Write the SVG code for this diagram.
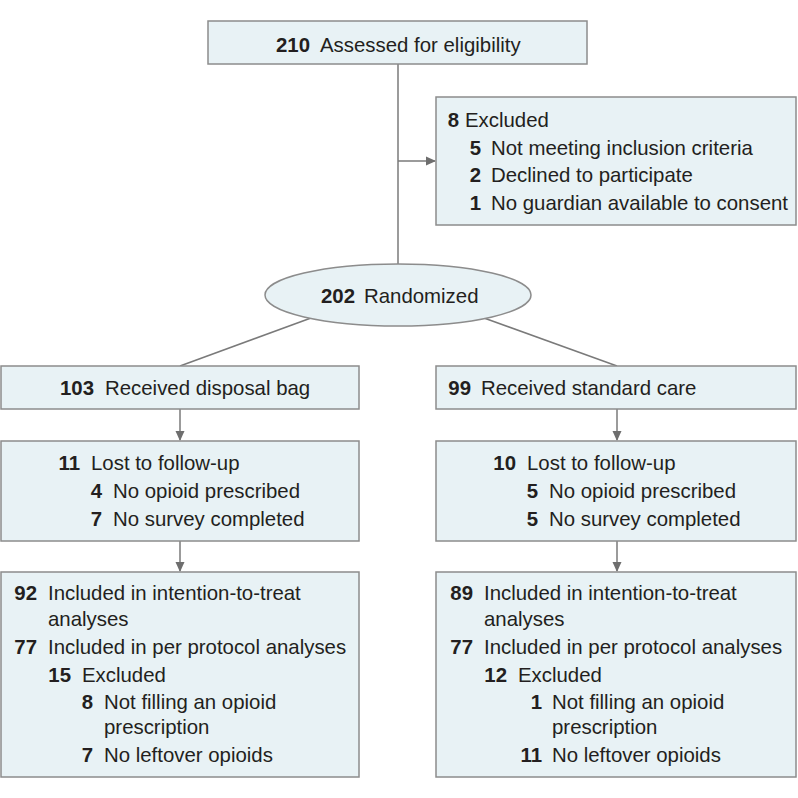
<svg xmlns="http://www.w3.org/2000/svg" width="798" height="798" viewBox="0 0 798 798">
<style>
.box{fill:#e8f2f5;stroke:#8c8c8c;stroke-width:1.5}
.t{font-family:"Liberation Sans",Arial,sans-serif;font-size:20.4px;fill:#231f20}
.n{font-family:"Liberation Sans",Arial,sans-serif;font-size:20.4px;font-weight:bold;fill:#231f20;text-anchor:end}
.c{fill:none;stroke:#7a7a7a;stroke-width:1.5}
</style>
<defs>
<marker id="ah" markerWidth="10" markerHeight="10" refX="9" refY="5" orient="auto" markerUnits="userSpaceOnUse">
<path d="M0,0.5 L10,5 L0,9.5 Z" fill="#6e6e6e"/>
</marker>
</defs>
<rect width="798" height="798" fill="#ffffff"/>
<g id="connectors">
<line class="c" x1="398" y1="64" x2="398" y2="264"/>
<line class="c" x1="398" y1="161" x2="435" y2="161" marker-end="url(#ah)"/>
<line class="c" x1="311" y1="318" x2="180" y2="366"/>
<line class="c" x1="484" y1="318" x2="617" y2="366"/>
<line class="c" x1="180" y1="409" x2="180" y2="440" marker-end="url(#ah)"/>
<line class="c" x1="180" y1="541" x2="180" y2="571" marker-end="url(#ah)"/>
<line class="c" x1="617" y1="409" x2="617" y2="440" marker-end="url(#ah)"/>
<line class="c" x1="617" y1="541" x2="617" y2="571" marker-end="url(#ah)"/>
</g>
<g id="assessed">
<rect class="box" x="208" y="21" width="379" height="43"/>
<text class="n" x="310" y="52">210</text><text class="t" x="320" y="52">Assessed for eligibility</text>
</g>
<g id="excluded">
<rect class="box" x="436" y="97" width="360" height="128"/>
<text class="n" x="459" y="127">8</text><text class="t" x="465" y="127">Excluded</text>
<text class="n" x="481" y="155">5</text><text class="t" x="491" y="155">Not meeting inclusion criteria</text>
<text class="n" x="481" y="182">2</text><text class="t" x="491" y="182">Declined to participate</text>
<text class="n" x="481" y="210">1</text><text class="t" x="491" y="210">No guardian available to consent</text>
</g>
<g id="randomized">
<ellipse class="box" cx="398" cy="295" rx="133" ry="31"/>
<text class="n" x="355" y="303">202</text><text class="t" x="364" y="303">Randomized</text>
</g>
<g id="disposal">
<rect class="box" x="1" y="366" width="358" height="43"/>
<text class="n" x="94" y="395">103</text><text class="t" x="105" y="395">Received disposal bag</text>
</g>
<g id="standard">
<rect class="box" x="436" y="366" width="360" height="43"/>
<text class="n" x="471" y="395">99</text><text class="t" x="481" y="395">Received standard care</text>
</g>
<g id="lost-left">
<rect class="box" x="1" y="441" width="358" height="100"/>
<text class="n" x="80" y="470">11</text><text class="t" x="91" y="470">Lost to follow-up</text>
<text class="n" x="102" y="498">4</text><text class="t" x="113" y="498">No opioid prescribed</text>
<text class="n" x="102" y="526">7</text><text class="t" x="113" y="526">No survey completed</text>
</g>
<g id="lost-right">
<rect class="box" x="436" y="441" width="360" height="100"/>
<text class="n" x="516" y="470">10</text><text class="t" x="527" y="470">Lost to follow-up</text>
<text class="n" x="538" y="498">5</text><text class="t" x="549" y="498">No opioid prescribed</text>
<text class="n" x="538" y="526">5</text><text class="t" x="549" y="526">No survey completed</text>
</g>
<g id="analysis-left">
<rect class="box" x="1" y="572" width="358" height="205"/>
<text class="n" x="37" y="600">92</text><text class="t" x="48" y="600">Included in intention-to-treat</text>
<text class="t" x="48" y="626">analyses</text>
<text class="n" x="37" y="654">77</text><text class="t" x="48" y="654">Included in per protocol analyses</text>
<text class="n" x="71" y="682">15</text><text class="t" x="82" y="682">Excluded</text>
<text class="n" x="93" y="709">8</text><text class="t" x="104" y="709">Not filling an opioid</text>
<text class="t" x="104" y="734">prescription</text>
<text class="n" x="93" y="762">7</text><text class="t" x="104" y="762">No leftover opioids</text>
</g>
<g id="analysis-right">
<rect class="box" x="436" y="572" width="360" height="205"/>
<text class="n" x="473" y="600">89</text><text class="t" x="484" y="600">Included in intention-to-treat</text>
<text class="t" x="484" y="626">analyses</text>
<text class="n" x="473" y="654">77</text><text class="t" x="484" y="654">Included in per protocol analyses</text>
<text class="n" x="507" y="682">12</text><text class="t" x="518" y="682">Excluded</text>
<text class="n" x="542" y="709">1</text><text class="t" x="552" y="709">Not filling an opioid</text>
<text class="t" x="552" y="734">prescription</text>
<text class="n" x="542" y="762">11</text><text class="t" x="552" y="762">No leftover opioids</text>
</g>
</svg>
